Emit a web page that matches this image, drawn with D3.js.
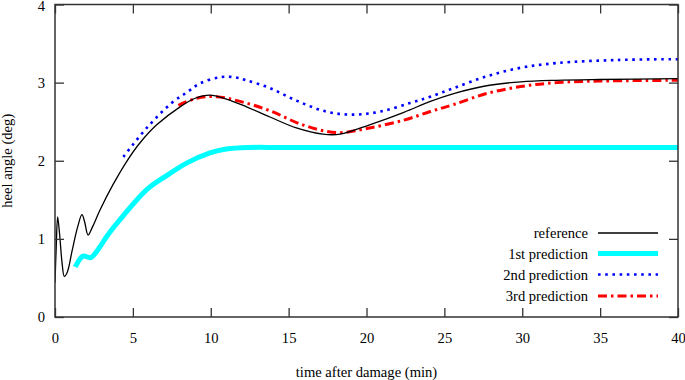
<!DOCTYPE html>
<html>
<head>
<meta charset="utf-8">
<script src="https://cdn.jsdelivr.net/npm/d3@7"></script>
<style>
  body { margin: 0; background: #fff; }
  svg text { font-family: "Liberation Serif", "DejaVu Serif", serif; font-size: 14.6px; fill: #000; }
</style>
</head>
<body>
<script>
// heel angle chart
const W = 685, H = 380;
const margin = { top: 4.5, right: 7, bottom: 63, left: 55 };

const xTicks = [0, 5, 10, 15, 20, 25, 30, 35, 40];
const yTicks = [0, 1, 2, 3, 4];

// [time (min), heel angle (deg)]
const referenceData = [
    [0, 0.44], [0.08, 0.9], [0.17, 1.28], [0.3, 1.05], [0.45, 0.7], [0.6, 0.52], [0.8, 0.58],
    [1.1, 0.85], [1.45, 1.15], [1.73, 1.31], [1.9, 1.22], [2.12, 1.05], [2.4, 1.15], [2.89, 1.37],
    [3.74, 1.7], [4.6, 1.99], [5.46, 2.23], [6.53, 2.46], [8.03, 2.69],
    [9.0, 2.8], [9.95, 2.84], [11.0, 2.79], [12.3, 2.69], [13.8, 2.56], [15.5, 2.42], [17.2, 2.34],
    [18.3, 2.34], [20.2, 2.46], [22.4, 2.62], [24.1, 2.76], [25.6, 2.86], [27.7, 2.96], [29.9, 3.01],
    [32.2, 3.03], [35, 3.04], [40, 3.05],
];
const pred1Data = [
    [1.3, 0.64], [1.8, 0.78], [2.29, 0.76], [2.89, 0.9], [3.32, 1.03], [4.4, 1.3], [5.89, 1.63],
    [7.17, 1.81], [8.45, 1.97], [9.95, 2.1], [11.0, 2.15], [12.5, 2.17], [14.4, 2.17], [20, 2.17],
    [30, 2.17], [40, 2.17],
];
const pred2Data = [
    [4.39, 2.05], [5.89, 2.42], [7.49, 2.74], [8.5, 2.88], [9.31, 2.99], [10.6, 3.07],
    [11.5, 3.07], [12.3, 3.03], [13.8, 2.93], [15.5, 2.77], [17.4, 2.63], [19.15, 2.59],
    [20.9, 2.63], [22.8, 2.74], [24.1, 2.82], [25.6, 2.93], [27.7, 3.08], [29.9, 3.19],
    [32.2, 3.25], [36.1, 3.29], [40, 3.3],
];
const pred3Data = [
    [7.92, 2.71], [9.1, 2.8], [10.38, 2.82], [11.88, 2.76], [13.8, 2.64], [15.9, 2.46], [18.1, 2.36],
    [20.2, 2.42], [22.4, 2.52], [24.1, 2.63], [25.6, 2.72], [27.7, 2.86], [29.9, 2.95],
    [32.2, 3.0], [35, 3.02], [40, 3.03],
];

const series = [
    { label: "reference",      data: referenceData, color: "#000",    width: 1.3, dash: null },
    { label: "1st prediction", data: pred1Data,     color: "#00ffff", width: 5,   dash: null },
    { label: "2nd prediction", data: pred2Data,     color: "#0000ff", width: 2.6, dash: "2.6,4.6" },
    { label: "3rd prediction", data: pred3Data,     color: "#ff0000", width: 3,   dash: "9,4,2.5,4" },
];

const innerW = W - margin.left - margin.right;
const innerH = H - margin.top - margin.bottom;

const x = d3.scaleLinear().domain([0, 40]).range([0, innerW]);
const y = d3.scaleLinear().domain([0, 4]).range([innerH, 0]);

const svg = d3.select("body").append("svg").attr("width", W).attr("height", H);
const g = svg.append("g").attr("transform", `translate(${margin.left},${margin.top})`);

const clip = svg.append("defs").append("clipPath").attr("id", "plot-clip");
clip.append("rect").attr("width", innerW).attr("height", innerH);

// ── Series ──
const line = d3.line().x(d => x(d[0])).y(d => y(d[1])).curve(d3.curveCatmullRom.alpha(0.5));
// draw order: reference on top of cyan
[series[1], series[2], series[3], series[0]].forEach(s => {
    g.append("path")
        .attr("clip-path", "url(#plot-clip)")
        .attr("fill", "none")
        .attr("stroke", s.color)
        .attr("stroke-width", s.width)
        .attr("stroke-dasharray", s.dash)
        .attr("d", line(s.data));
});

// ── Axes (gnuplot style, inward ticks, mirrored) ──
const tickLen = 9;
const axisColor = "#333";
g.append("g").attr("transform", `translate(0,${innerH})`)
    .call(d3.axisBottom(x).tickValues(xTicks).tickSizeInner(-tickLen).tickSizeOuter(0).tickPadding(16))
    .call(a => a.select(".domain").remove());
g.append("g").attr("transform", `translate(0,0)`)
    .call(d3.axisTop(x).tickValues(xTicks).tickSizeInner(-tickLen).tickSizeOuter(0).tickFormat(""))
    .call(a => a.select(".domain").remove());
const yAxisG = g.append("g")
    .call(d3.axisLeft(y).tickValues(yTicks).tickSizeInner(-tickLen).tickSizeOuter(0).tickPadding(10)
        .tickFormat(d3.format("d")))
    .call(a => a.select(".domain").remove());
// keep the top label inside the page
yAxisG.selectAll(".tick text").filter(d => d === 4).attr("dy", "0.42em");
g.append("g").attr("transform", `translate(${innerW},0)`)
    .call(d3.axisRight(y).tickValues(yTicks).tickSizeInner(-tickLen).tickSizeOuter(0).tickFormat(""))
    .call(a => a.select(".domain").remove());

g.selectAll(".tick line").attr("stroke", axisColor).attr("stroke-width", 1.3);
g.selectAll(".tick text")
    .attr("font-family", "Liberation Serif, serif")
    .attr("font-size", 14.6)
    .attr("fill", "#000");

g.append("rect")
    .attr("width", innerW).attr("height", innerH)
    .attr("fill", "none").attr("stroke", axisColor).attr("stroke-width", 1.5);

// ── Axis titles ──
svg.append("text")
    .attr("x", margin.left + innerW / 2).attr("y", 377)
    .attr("text-anchor", "middle")
    .text("time after damage (min)");
svg.append("text")
    .attr("transform", `translate(12,${margin.top + innerH / 2}) rotate(-90)`)
    .attr("text-anchor", "middle")
    .text("heel angle (deg)");

// ── Legend ──
const legendRows = [233, 253.5, 274.5, 296];
series.forEach((s, i) => {
    const ly = legendRows[i];
    svg.append("text")
        .attr("x", 588).attr("y", ly + 5)
        .attr("text-anchor", "end")
        .text(s.label);
    svg.append("line")
        .attr("x1", 598).attr("x2", 658).attr("y1", ly).attr("y2", ly)
        .attr("stroke", s.color)
        .attr("stroke-width", s.width)
        .attr("stroke-dasharray", s.dash);
});
</script>
</body>
</html>
